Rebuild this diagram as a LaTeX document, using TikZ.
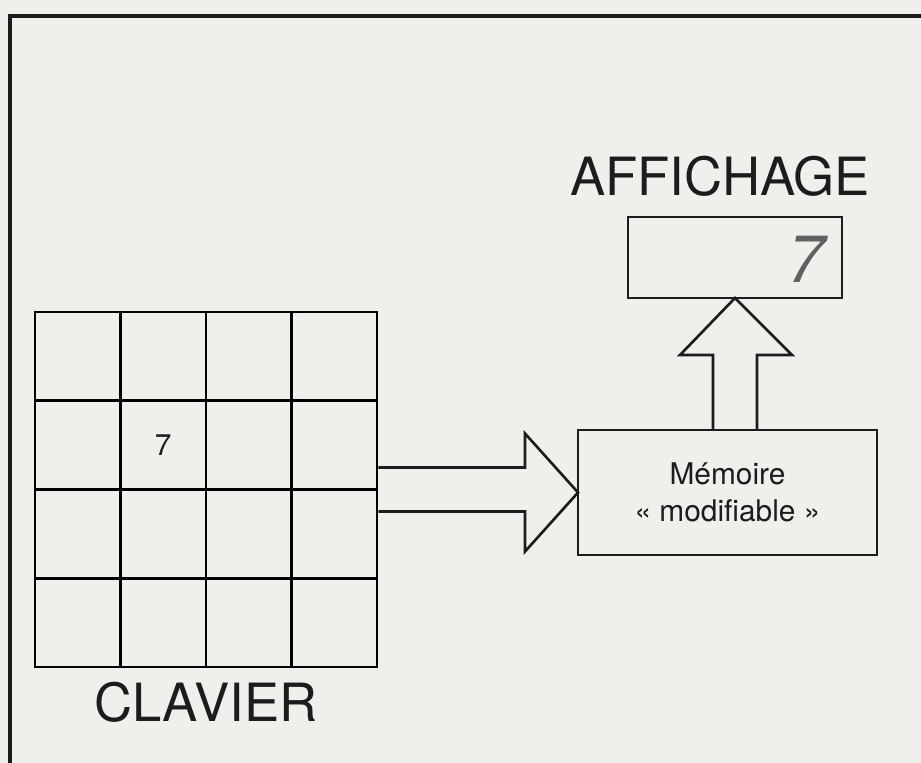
\documentclass[tikz,border=0pt]{standalone}
\usepackage{fontspec}
\setmainfont{TeX Gyre Heros}
\newfontfamily\segfont[FakeSlant=0.2]{TeX Gyre Heros}
\usetikzlibrary{positioning,calc,matrix}
\definecolor{papier}{RGB}{239,239,236}
\definecolor{encre}{RGB}{28,28,28}

\begin{document}
\begin{tikzpicture}[x=0.02cm,y=-0.02cm,line width=1.5pt,draw=encre,text=encre,
  titre/.style={inner sep=0pt,font=\fontsize{30}{36}\selectfont},
  bloc/.style={draw,outer sep=0pt,font=\fontsize{17}{21}\selectfont},
  fleche/.style={draw,line join=miter}]
  \useasboundingbox (0,0) rectangle (921,762);
  \fill[papier] (-20,-20) rectangle (941,782);
  \clip (0,0) rectangle (921,762);
  % cadre
  \draw[line width=1.8pt] (930,16) -- (10,16) -- (10,770);

  \matrix[matrix of nodes,nodes in empty cells,inner sep=0pt,outer sep=0pt,
          nodes={bloc,anchor=center,minimum width=1.71cm,minimum height=1.775cm},
          column sep=-1.5pt,row sep=-1.5pt] (clavier) at (206,489.5) {
     &   & & \\
     & 7 & & \\
     &   & & \\
     &   & & \\
  };
  \node[titre,below=0.26cm of clavier] (nomclavier) {CLAVIER};

  \node[bloc,minimum width=5.98cm,minimum height=2.5cm,align=center] (memoire)
    at (727.5,492.5) {Mémoire\\« modifiable »};

  \node[bloc,minimum width=4.28cm,minimum height=1.62cm] (affichage) at (735,257.5) {};
  \node[titre,above=0.38cm of affichage,xshift=-0.3cm] (nomaffichage) {AFFICHAGE};
  \node[anchor=east,inner sep=0pt,text=encre!70,font=\segfont\fontsize{38}{38}\selectfont]
    (chiffre) at ($(affichage.east)+(-19,2)$) {7};

  % clavier -> memoire
  \draw[fleche] ($(clavier.east)+(0,-22)$) -| ($(memoire.west)+(-53,-59)$)
    -- (memoire.west) -- ($(memoire.west)+(-53,59)$) |- ($(clavier.east)+(0,22)$);

  % memoire -> affichage
  \coordinate (base) at (memoire.north -| affichage.south);
  \draw[fleche] ($(base)+(-22,0)$) |- ($(affichage.south)+(-55,57)$)
    -- (affichage.south) -- ($(affichage.south)+(57,57)$) -| ($(base)+(22,0)$);
\end{tikzpicture}
\end{document}
